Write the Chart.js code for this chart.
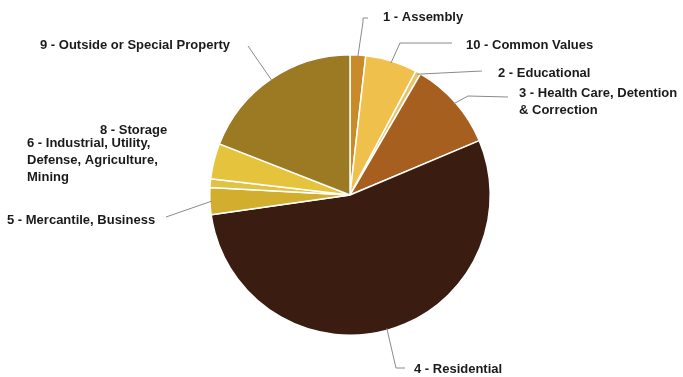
<!DOCTYPE html>
<html>
<head>
<meta charset="utf-8">
<script src="https://cdn.jsdelivr.net/npm/chart.js@4.4.1/dist/chart.umd.min.js"></script>
<style>
  html, body { margin: 0; padding: 0; background: #fff; }
  #wrap { width: 683px; height: 377px; position: relative; }
</style>
</head>
<body>
<div id="wrap"><canvas id="pie"></canvas></div>
<script>
// occupancy categories, clockwise from 12 o'clock
const categories = [
  '1 - Assembly',
  '10 - Common Values',
  '2 - Educational',
  '3 - Health Care, Detention & Correction',
  '4 - Residential',
  '5 - Mercantile, Business',
  '6 - Industrial, Utility, Defense, Agriculture, Mining',
  '8 - Storage',
  '9 - Outside or Special Property'
];
// share of total, percent
const shares = [1.8, 6.0, 0.6, 10.3, 54.2, 3.1, 1.0, 4.1, 19.1];
const sliceColors = ['#c98a2a', '#f0c04c', '#e6c46a', '#a65f1f', '#3a1d10', '#d2ae2e', '#e0c244', '#e6c33c', '#9c7a24'];

// label placement: text lines, left x, first line y, leader path (after the arc point)
const labelLayout = [
  { lines: ['1 - Assembly'], x: 383, y: 17, path: [[363, 22], [363, 18], [368, 18]] },
  { lines: ['10 - Common Values'], x: 466, y: 45, path: [[400, 43], [452, 43]] },
  { lines: ['2 - Educational'], x: 498, y: 73, path: [[482, 71]] },
  { lines: ['3 - Health Care, Detention', '& Correction'], x: 519, y: 93, path: [[468, 96], [508, 97]] },
  { lines: ['4 - Residential'], x: 414, y: 369, path: [[396, 368], [405, 368]] },
  { lines: ['5 - Mercantile, Business'], x: 7, y: 220, path: [[166, 217]] },
  { lines: ['6 - Industrial, Utility,', 'Defense, Agriculture,', 'Mining'], x: 27, y: 143, path: null },
  { lines: ['8 - Storage'], x: 100, y: 130, path: null },
  { lines: ['9 - Outside or Special Property'], x: 40, y: 45, path: [[248, 46]] }
];

const calloutPlugin = {
  id: 'callouts',
  afterDraw(chart) {
    const ctx = chart.ctx;
    const meta = chart.getDatasetMeta(0);
    ctx.save();
    meta.data.forEach((arc, i) => {
      const lay = labelLayout[i];
      const p = arc.getProps(['x', 'y', 'startAngle', 'endAngle', 'outerRadius'], true);
      const mid = (p.startAngle + p.endAngle) / 2;
      if (lay.path) {
        ctx.strokeStyle = '#8a8a8a';
        ctx.lineWidth = 1;
        ctx.beginPath();
        ctx.moveTo(p.x + Math.cos(mid) * (p.outerRadius - 2), p.y + Math.sin(mid) * (p.outerRadius - 2));
        lay.path.forEach(pt => ctx.lineTo(pt[0], pt[1]));
        ctx.stroke();
      }
      ctx.fillStyle = '#1a1a1a';
      ctx.font = 'bold 13px "Liberation Sans", Arial, sans-serif';
      ctx.textAlign = 'left';
      ctx.textBaseline = 'middle';
      lay.lines.forEach((t, k) => ctx.fillText(t, lay.x, lay.y + k * 17));
    });
    ctx.restore();
  }
};

new Chart(document.getElementById('pie').getContext('2d'), {
  type: 'pie',
  data: {
    labels: categories,
    datasets: [{
      data: shares,
      backgroundColor: sliceColors,
      borderColor: '#ffffff',
      borderWidth: 1.5
    }]
  },
  options: {
    responsive: true,
    maintainAspectRatio: false,
    animation: false,
    layout: { padding: { left: 209, right: 192, top: 54, bottom: 41 } },
    plugins: {
      legend: { display: false },
      tooltip: { enabled: false }
    }
  },
  plugins: [calloutPlugin]
});
</script>
</body>
</html>
